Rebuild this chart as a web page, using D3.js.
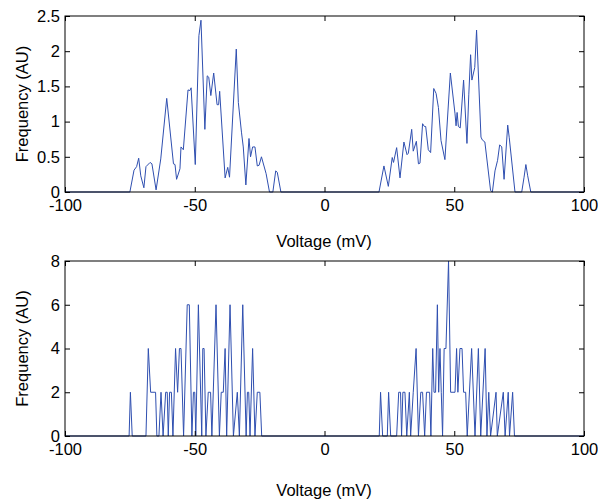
<!DOCTYPE html>
<html>
<head>
<meta charset="utf-8">
<script src="https://cdn.jsdelivr.net/npm/d3@7"></script>
<style>
  body { margin: 0; background: #fff; }
  svg { display: block; }
  .tick text { font-family: "Liberation Sans", Arial, sans-serif; font-size: 16.5px; fill: #000; }
  .tick line { stroke: #000; }
  .lbl { font-family: "Liberation Sans", Arial, sans-serif; font-size: 16.5px; fill: #000; }
</style>
</head>
<body>
<div id="chart"></div>
<script>
// voltage (mV) / frequency (AU) - smoothed trace
var topX = [-100, -75.0, -73.4, -72.4, -71.6, -70.8, -69.6, -68.8, -67.2, -66.5, -64.9, -63.1, -60.8, -58.2, -57.6, -57.0,
  -55.7, -55.3, -54.4, -52.6, -51.9, -51.4, -49.8, -48.4, -47.6, -46.1, -45.2, -44.6, -43.8, -42.7, -41.4, -40.8, -40.4,
  -38.3, -37.3, -36.6, -34.0, -33.2, -32.0, -31.3, -30.3, -29.1, -28.5, -27.7, -26.8, -25.9, -25.2, -24.3, -22.5, -21.2,
  -19.9, -18.8, -18.2, -16.8,
  21.0, 22.9, 24.6, 26.1, 26.6, 27.8, 29.1, 30.6, 31.8, 32.3, 33.6, 34.2, 35.4, 36.2, 36.8, 37.8, 38.5, 39.0, 40.0, 40.9,
  42.1, 43.0, 43.9, 44.9, 46.4, 48.5, 50.3, 50.7, 51.1, 51.6, 52.3, 53.6, 54.9, 55.6, 56.3, 56.8, 57.9, 58.6, 60.3, 60.8,
  61.8, 64.0, 64.7, 65.7, 66.7, 67.5, 68.3, 69.2, 70.6, 71.2, 73.4, 76.0, 76.9, 77.6, 78.3, 79.5, 100];
var topY = [0, 0, 0.31, 0.36, 0.48, 0.23, 0.06, 0.36, 0.42, 0.40, 0.03, 0.47, 1.33, 0.40, 0.39, 0.18,
  0.33, 0.64, 0.60, 1.45, 1.44, 1.48, 0.39, 2.22, 2.44, 0.89, 1.65, 1.63, 1.37, 1.69, 1.24, 1.24, 1.43,
  0.20, 0.35, 0.21, 2.03, 1.27, 0.85, 0.64, 0.10, 0.76, 0.50, 0.64, 0.64, 0.37, 0.38, 0.50, 0.26, 0,
  0, 0.30, 0.28, 0,
  0, 0.37, 0.08, 0.49, 0.42, 0.63, 0.20, 0.71, 0.53, 0.55, 0.89, 0.58, 0.72, 0.40, 0.41, 0.97, 0.93, 0.93, 0.60, 0.56,
  1.47, 1.40, 1.20, 0.73, 0.46, 1.69, 1.11, 0.94, 1.13, 0.93, 0.91, 1.59, 0.69, 1.38, 1.95, 1.59, 1.77, 2.30, 0.78, 0.74,
  0.71, 0.02, 0, 0.30, 0.45, 0.67, 0.64, 0.18, 0.95, 0.77, 0, 0, 0.21, 0.39, 0.23, 0, 0];

// raw counts trace
var botX = [-100, -75.3, -74.8, -74.1, -68.8, -67.9, -67.0, -65.1, -64.6, -63.8, -63.0, -62.2, -61.2, -60.6, -60.2, -59.7,
  -59.0, -58.4, -57.4, -56.6, -55.9, -55.3, -54.3, -52.9, -52.1, -51.1, -50.5, -50.0, -49.6, -48.6, -47.3, -46.9, -46.4,
  -45.7, -44.8, -43.9, -43.4, -41.8, -40.5, -39.8, -39.0, -38.3, -37.7, -36.4, -35.1, -33.6, -32.8, -31.5, -30.2, -29.7,
  -29.2, -28.7, -27.7, -26.8, -25.9, -24.9, -24.2,
  21.1, 21.6, 22.4, 24.2, 24.7, 25.5, 27.8, 28.6, 29.3, 29.7, 30.2, 31.0, 31.7, 32.7, 33.2, 34.2, 35.3, 36.2, 37.1, 37.8,
  38.6, 39.3, 40.5, 41.0, 41.7, 42.2, 42.8, 43.5, 44.0, 44.5, 45.0, 45.5, 46.1, 46.8, 47.8, 48.6, 50.3, 50.9, 51.4, 52.2,
  53.0, 53.6, 54.4, 55.0, 56.7, 58.0, 59.3, 60.2, 61.9, 62.6, 63.3, 64.0, 66.1, 66.6, 68.9, 69.6, 70.8, 71.3, 72.5, 73.2, 100];
var botY = [0, 0, 2, 0, 0, 4, 2, 2, 0, 0, 2, 0, 2, 2, 0, 2,
  2, 0, 4, 2, 4, 4, 0, 6, 6, 0, 2, 2, 0, 6, 0, 4, 4,
  0, 2, 2, 0, 6, 0, 2, 2, 4, 0, 6, 0, 2, 0, 6, 0, 2,
  2, 0, 4, 0, 2, 2, 0,
  0, 2, 0, 0, 2, 0, 0, 2, 2, 0, 2, 2, 0, 2, 0, 2, 4, 0, 2, 2,
  0, 2, 2, 0, 4, 2, 2, 6, 2, 4, 2, 0, 4, 4, 8, 2, 2, 4, 2, 4,
  4, 2, 2, 0, 4, 0, 4, 0, 4, 0, 2, 0, 2, 0, 2, 0, 2, 0, 2, 0, 0];

var xTicks = [-100, -50, 0, 50, 100];
var topTicks = [0, 0.5, 1, 1.5, 2, 2.5];
var botTicks = [0, 2, 4, 6, 8];

var width = 598, height = 499;
var lineColor = "#2f4fb0";

var svg = d3.select("#chart").append("svg")
    .attr("width", width)
    .attr("height", height);

var x = d3.scaleLinear().domain([-100, 100]).range([65, 584]);

// plain hyphen minus like matlab, not the unicode minus d3 puts in
var fmt = function(d) { return String(d); };

function panel(xs, ys, yDomain, yRange, yTicks, labelY) {
  var y = d3.scaleLinear().domain(yDomain).range(yRange);
  var g = svg.append("g");

  // line drawn first, axes frame on top like matlab
  var pts = xs.map(function(d, i) { return [d, ys[i]]; });
  g.append("path")
      .datum(pts)
      .attr("fill", "none")
      .attr("stroke", lineColor)
      .attr("stroke-width", 1)
      .attr("d", d3.line().x(function(d) { return x(d[0]); }).y(function(d) { return y(d[1]); }));

  var bottom = d3.axisBottom(x).tickValues(xTicks).tickSizeInner(-5).tickSizeOuter(0).tickPadding(7).tickFormat(fmt);
  var top = d3.axisTop(x).tickValues(xTicks).tickSizeInner(-5).tickSizeOuter(0).tickFormat("");
  var left = d3.axisLeft(y).tickValues(yTicks).tickSizeInner(-5).tickSizeOuter(0).tickPadding(5).tickFormat(fmt);
  var right = d3.axisRight(y).tickValues(yTicks).tickSizeInner(-5).tickSizeOuter(0).tickFormat("");

  g.append("g").attr("transform", "translate(0," + yRange[0] + ")").call(bottom);
  g.append("g").attr("transform", "translate(0," + yRange[1] + ")").call(top);
  g.append("g").attr("transform", "translate(65,0)").call(left);
  g.append("g").attr("transform", "translate(584,0)").call(right);
  g.selectAll(".domain").remove();

  g.append("rect")
      .attr("x", 65).attr("y", yRange[1])
      .attr("width", 584 - 65).attr("height", yRange[0] - yRange[1])
      .attr("fill", "none").attr("stroke", "#000").attr("stroke-width", 1);

  g.append("text").attr("class", "lbl")
      .attr("x", 324).attr("y", labelY)
      .attr("text-anchor", "middle")
      .text("Voltage (mV)");

  var cy = (yRange[0] + yRange[1]) / 2;
  g.append("text").attr("class", "lbl")
      .attr("transform", "translate(28," + cy + ") rotate(-90)")
      .attr("text-anchor", "middle")
      .text("Frequency (AU)");
}

panel(topX, topY, [0, 2.5], [192, 16], topTicks, 247);
panel(botX, botY, [0, 8], [436, 261], botTicks, 496);
</script>
</body>
</html>
